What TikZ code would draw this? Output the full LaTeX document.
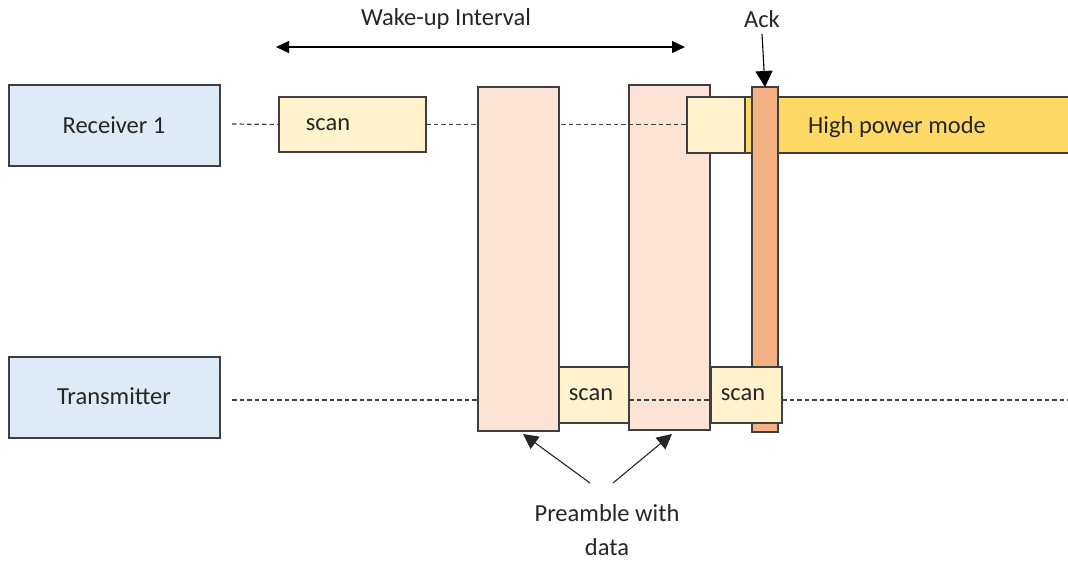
\documentclass[tikz,border=0pt]{standalone}
\usepackage{fontspec}
\setmainfont{Carlito}
\usetikzlibrary{arrows.meta,shadows}
\definecolor{edge}{HTML}{3F3F3F}
\definecolor{txt}{HTML}{262626}
\definecolor{labelblue}{HTML}{DEEAF6}
\definecolor{scanyellow}{HTML}{FFF2CC}
\definecolor{preamblepink}{HTML}{FBE3D6}
\definecolor{ackorange}{HTML}{F4B183}
\definecolor{powergold}{HTML}{FFD966}
\tikzset{
  blk/.style={draw=edge, line width=1.2pt, inner sep=0pt, outer sep=0pt, anchor=north west,
    drop shadow={opacity=0.25, shadow xshift=1.2pt, shadow yshift=-1.2pt}},
  rowlabel/.style={blk, fill=labelblue, minimum width=211, minimum height=81},
  scanbox/.style={blk, fill=scanyellow},
  preamble/.style={blk, fill=preamblepink, minimum width=81},
  timeline/.style={draw=edge, line width=1.2pt, dash pattern=on 4.5pt off 3pt},
  callout/.style={draw=txt, line width=1.1pt, -{Triangle[length=15pt,width=15pt]}},
  txtstyle/.style={text=txt, font=\fontsize{24.5}{30}\selectfont, inner sep=0pt}
}
\begin{document}
\begin{tikzpicture}[x=1pt,y=-1pt]
\clip (0,0) rectangle (1068,562);
\useasboundingbox (0,0) rectangle (1068,562);

% row labels
\node[rowlabel] (rx) at (9,85) {};
\node[txtstyle] at (114,125) {Receiver 1};
\node[rowlabel] (tx) at (9,357) {};
\node[txtstyle] at (114,396) {Transmitter};

% receiver timeline
\coordinate (rxstart) at (232,124);
\node[scanbox, minimum width=147, minimum height=55] (rxscan) at (279,97) {};
\node[txtstyle] at (328,125) {scan};
\draw[timeline] (rxstart) -- (rxscan.west);

% transmitter timeline
\coordinate (txstart) at (232,400);
\coordinate (txend) at (1070,400);

% high power mode bar, running off the right edge
\node[blk, fill=powergold, minimum width=340, minimum height=56] (hp) at (745,97) {};
\node[txtstyle, anchor=west] at (808,127) {High power mode};

% second preamble, crossed by both timelines
\node[preamble, minimum height=345] (pre2) at (629,85) {};
\node[scanbox, minimum width=58, minimum height=56] (rxwin) at (687,97) {};
\draw[timeline] (rxscan.east) -- (rxwin.west |- rxscan.east);

% transmitter scans
\node[scanbox, minimum width=70, minimum height=56] (txscan1) at (559,367) {};
\node[txtstyle] at (591,395) {scan};
\draw[timeline] (txstart) -- (txscan1.west |- txstart);

% acknowledgement burst
\node[blk, fill=ackorange, minimum width=26, minimum height=345] (ack) at (752,87) {};

\node[scanbox, minimum width=71, minimum height=56] (txscan2) at (711,367) {};
\node[txtstyle] at (743,395) {scan};
\draw[timeline] (txscan1.east |- txstart) -- (txscan2.west |- txstart);
\draw[timeline] (txscan2.east |- txstart) -- (txend);

% first preamble hides the timelines behind it
\node[preamble, minimum height=344] (pre1) at (478,87) {};

% wake-up interval
\coordinate (wuL) at (276,47);
\coordinate (wuR) at (685,47);
\draw[draw=black, line width=1.2pt, {Triangle[length=13pt,width=12pt]}-{Triangle[length=13pt,width=12pt]}] (wuL) -- (wuR);
\node[txtstyle] (wulabel) at (446,19) {Wake-up Interval};

% ack label
\node[txtstyle] (acklabel) at (762,19) {Ack};
\coordinate (ackfrom) at (762,34);
\draw[callout, draw=black, -{Triangle[length=16pt,width=17pt]}] (ackfrom) -- (ack.north);

% preamble callout
\node[txtstyle] (prelabel) at (607,513) {Preamble with};
\node[txtstyle] (prelabel2) at (607,547) {data};
\coordinate (cL) at (590,483);
\coordinate (cR) at (613,483);
\draw[callout] (cL) -- (523,434);
\draw[callout] (cR) -- (672,434);
\end{tikzpicture}
\end{document}
